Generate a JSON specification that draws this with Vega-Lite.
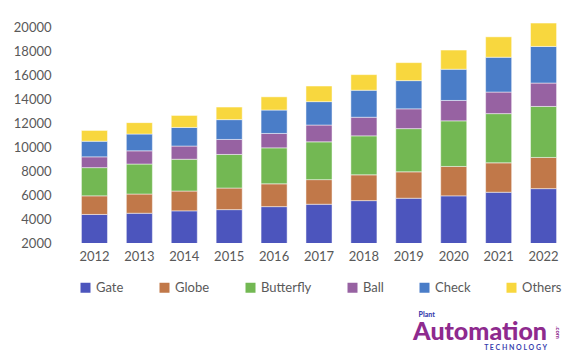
{
  "$schema": "https://vega.github.io/schema/vega-lite/v6.json",
  "autosize": "none",
  "width": 494,
  "height": 222,
  "padding": {"left": 72, "top": 21, "right": 8, "bottom": 116},
  "background": "white",
  "config": {"view": {"stroke": null}, "font": "Lato"},
  "title": {
    "text": "Automation",
    "orient": "bottom",
    "anchor": "end",
    "frame": "group",
    "offset": -18,
    "dx": -19,
    "font": "Lato",
    "fontWeight": 900,
    "fontSize": 25,
    "color": "#8E2A8E",
    "subtitle": "T E C H N O L O G Y",
    "subtitleFont": "Lato",
    "subtitleFontSize": 7,
    "subtitleFontWeight": "bold",
    "subtitleColor": "#3A3FAE",
    "subtitlePadding": -1
  },
  "data": {
    "values": [
      {"year": "2012", "type": "Gate", "value": 4380}, {"year": "2012", "type": "Globe", "value": 1550}, {"year": "2012", "type": "Butterfly", "value": 2350}, {"year": "2012", "type": "Ball", "value": 900}, {"year": "2012", "type": "Check", "value": 1300}, {"year": "2012", "type": "Others", "value": 900},
      {"year": "2013", "type": "Gate", "value": 4480}, {"year": "2013", "type": "Globe", "value": 1600}, {"year": "2013", "type": "Butterfly", "value": 2500}, {"year": "2013", "type": "Ball", "value": 1100}, {"year": "2013", "type": "Check", "value": 1400}, {"year": "2013", "type": "Others", "value": 950},
      {"year": "2014", "type": "Gate", "value": 4680}, {"year": "2014", "type": "Globe", "value": 1650}, {"year": "2014", "type": "Butterfly", "value": 2650}, {"year": "2014", "type": "Ball", "value": 1100}, {"year": "2014", "type": "Check", "value": 1550}, {"year": "2014", "type": "Others", "value": 1000},
      {"year": "2015", "type": "Gate", "value": 4780}, {"year": "2015", "type": "Globe", "value": 1800}, {"year": "2015", "type": "Butterfly", "value": 2800}, {"year": "2015", "type": "Ball", "value": 1250}, {"year": "2015", "type": "Check", "value": 1650}, {"year": "2015", "type": "Others", "value": 1050},
      {"year": "2016", "type": "Gate", "value": 5030}, {"year": "2016", "type": "Globe", "value": 1900}, {"year": "2016", "type": "Butterfly", "value": 3000}, {"year": "2016", "type": "Ball", "value": 1200}, {"year": "2016", "type": "Check", "value": 1950}, {"year": "2016", "type": "Others", "value": 1100},
      {"year": "2017", "type": "Gate", "value": 5230}, {"year": "2017", "type": "Globe", "value": 2050}, {"year": "2017", "type": "Butterfly", "value": 3150}, {"year": "2017", "type": "Ball", "value": 1400}, {"year": "2017", "type": "Check", "value": 1950}, {"year": "2017", "type": "Others", "value": 1300},
      {"year": "2018", "type": "Gate", "value": 5530}, {"year": "2018", "type": "Globe", "value": 2150}, {"year": "2018", "type": "Butterfly", "value": 3250}, {"year": "2018", "type": "Ball", "value": 1550}, {"year": "2018", "type": "Check", "value": 2250}, {"year": "2018", "type": "Others", "value": 1300},
      {"year": "2019", "type": "Gate", "value": 5730}, {"year": "2019", "type": "Globe", "value": 2200}, {"year": "2019", "type": "Butterfly", "value": 3600}, {"year": "2019", "type": "Ball", "value": 1650}, {"year": "2019", "type": "Check", "value": 2350}, {"year": "2019", "type": "Others", "value": 1500},
      {"year": "2020", "type": "Gate", "value": 5930}, {"year": "2020", "type": "Globe", "value": 2450}, {"year": "2020", "type": "Butterfly", "value": 3800}, {"year": "2020", "type": "Ball", "value": 1700}, {"year": "2020", "type": "Check", "value": 2600}, {"year": "2020", "type": "Others", "value": 1600},
      {"year": "2021", "type": "Gate", "value": 6230}, {"year": "2021", "type": "Globe", "value": 2450}, {"year": "2021", "type": "Butterfly", "value": 4100}, {"year": "2021", "type": "Ball", "value": 1800}, {"year": "2021", "type": "Check", "value": 2900}, {"year": "2021", "type": "Others", "value": 1700},
      {"year": "2022", "type": "Gate", "value": 6530}, {"year": "2022", "type": "Globe", "value": 2600}, {"year": "2022", "type": "Butterfly", "value": 4250}, {"year": "2022", "type": "Ball", "value": 1950}, {"year": "2022", "type": "Check", "value": 3050}, {"year": "2022", "type": "Others", "value": 1950}
    ]
  },
  "transform": [
    {"calculate": "indexof(['Gate','Globe','Butterfly','Ball','Check','Others'], datum.type)", "as": "order"}
  ],
  "mark": {"type": "bar", "clip": true, "stroke": "#ffffff", "strokeOpacity": 0.6, "strokeWidth": 0.8},
  "encoding": {
    "x": {
      "field": "year", "type": "ordinal",
      "scale": {"paddingInner": 0.42, "paddingOuter": 0.21},
      "axis": {
        "title": "Plant",
        "titleX": 346, "titleY": 67, "titleAnchor": "start",
        "titleFont": "Lato", "titleFontSize": 7, "titleFontWeight": 900, "titleColor": "#3A3FAE",
        "labelAngle": 0, "labelFont": "Lato", "labelFontSize": 13, "labelColor": "#595959",
        "labelPadding": 7, "ticks": false, "domain": false, "grid": false
      }
    },
    "y": {
      "field": "value", "type": "quantitative", "stack": "zero",
      "scale": {"domain": [2000, 20500], "nice": false, "zero": false},
      "axis": {
        "title": ".com", "titleAngle": 90, "titleX": 482, "titleY": 311, "titleAnchor": "middle",
        "titleFont": "Lato", "titleFontSize": 6, "titleFontWeight": "bold", "titleColor": "#8E2A8E",
        "values": [2000, 4000, 6000, 8000, 10000, 12000, 14000, 16000, 18000, 20000],
        "format": "d", "labelFont": "Lato", "labelFontSize": 13, "labelColor": "#595959",
        "labelPadding": 21, "ticks": false, "domain": false, "grid": false
      }
    },
    "color": {
      "field": "type", "type": "nominal",
      "scale": {
        "domain": ["Gate", "Globe", "Butterfly", "Ball", "Check", "Others"],
        "range": ["#4C55BD", "#C17849", "#73B853", "#9762A2", "#4A7DC8", "#F8D73E"]
      },
      "legend": {
        "orient": "none", "legendX": 7, "legendY": 260, "direction": "horizontal",
        "title": null, "symbolType": "square", "symbolSize": 100, "symbolStrokeWidth": 0,
        "labelFont": "Lato", "labelFontSize": 13, "labelColor": "#595959",
        "labelOffset": 4, "columnPadding": 34, "padding": 0, "columns": 6
      }
    },
    "order": {"field": "order", "type": "quantitative"}
  }
}
